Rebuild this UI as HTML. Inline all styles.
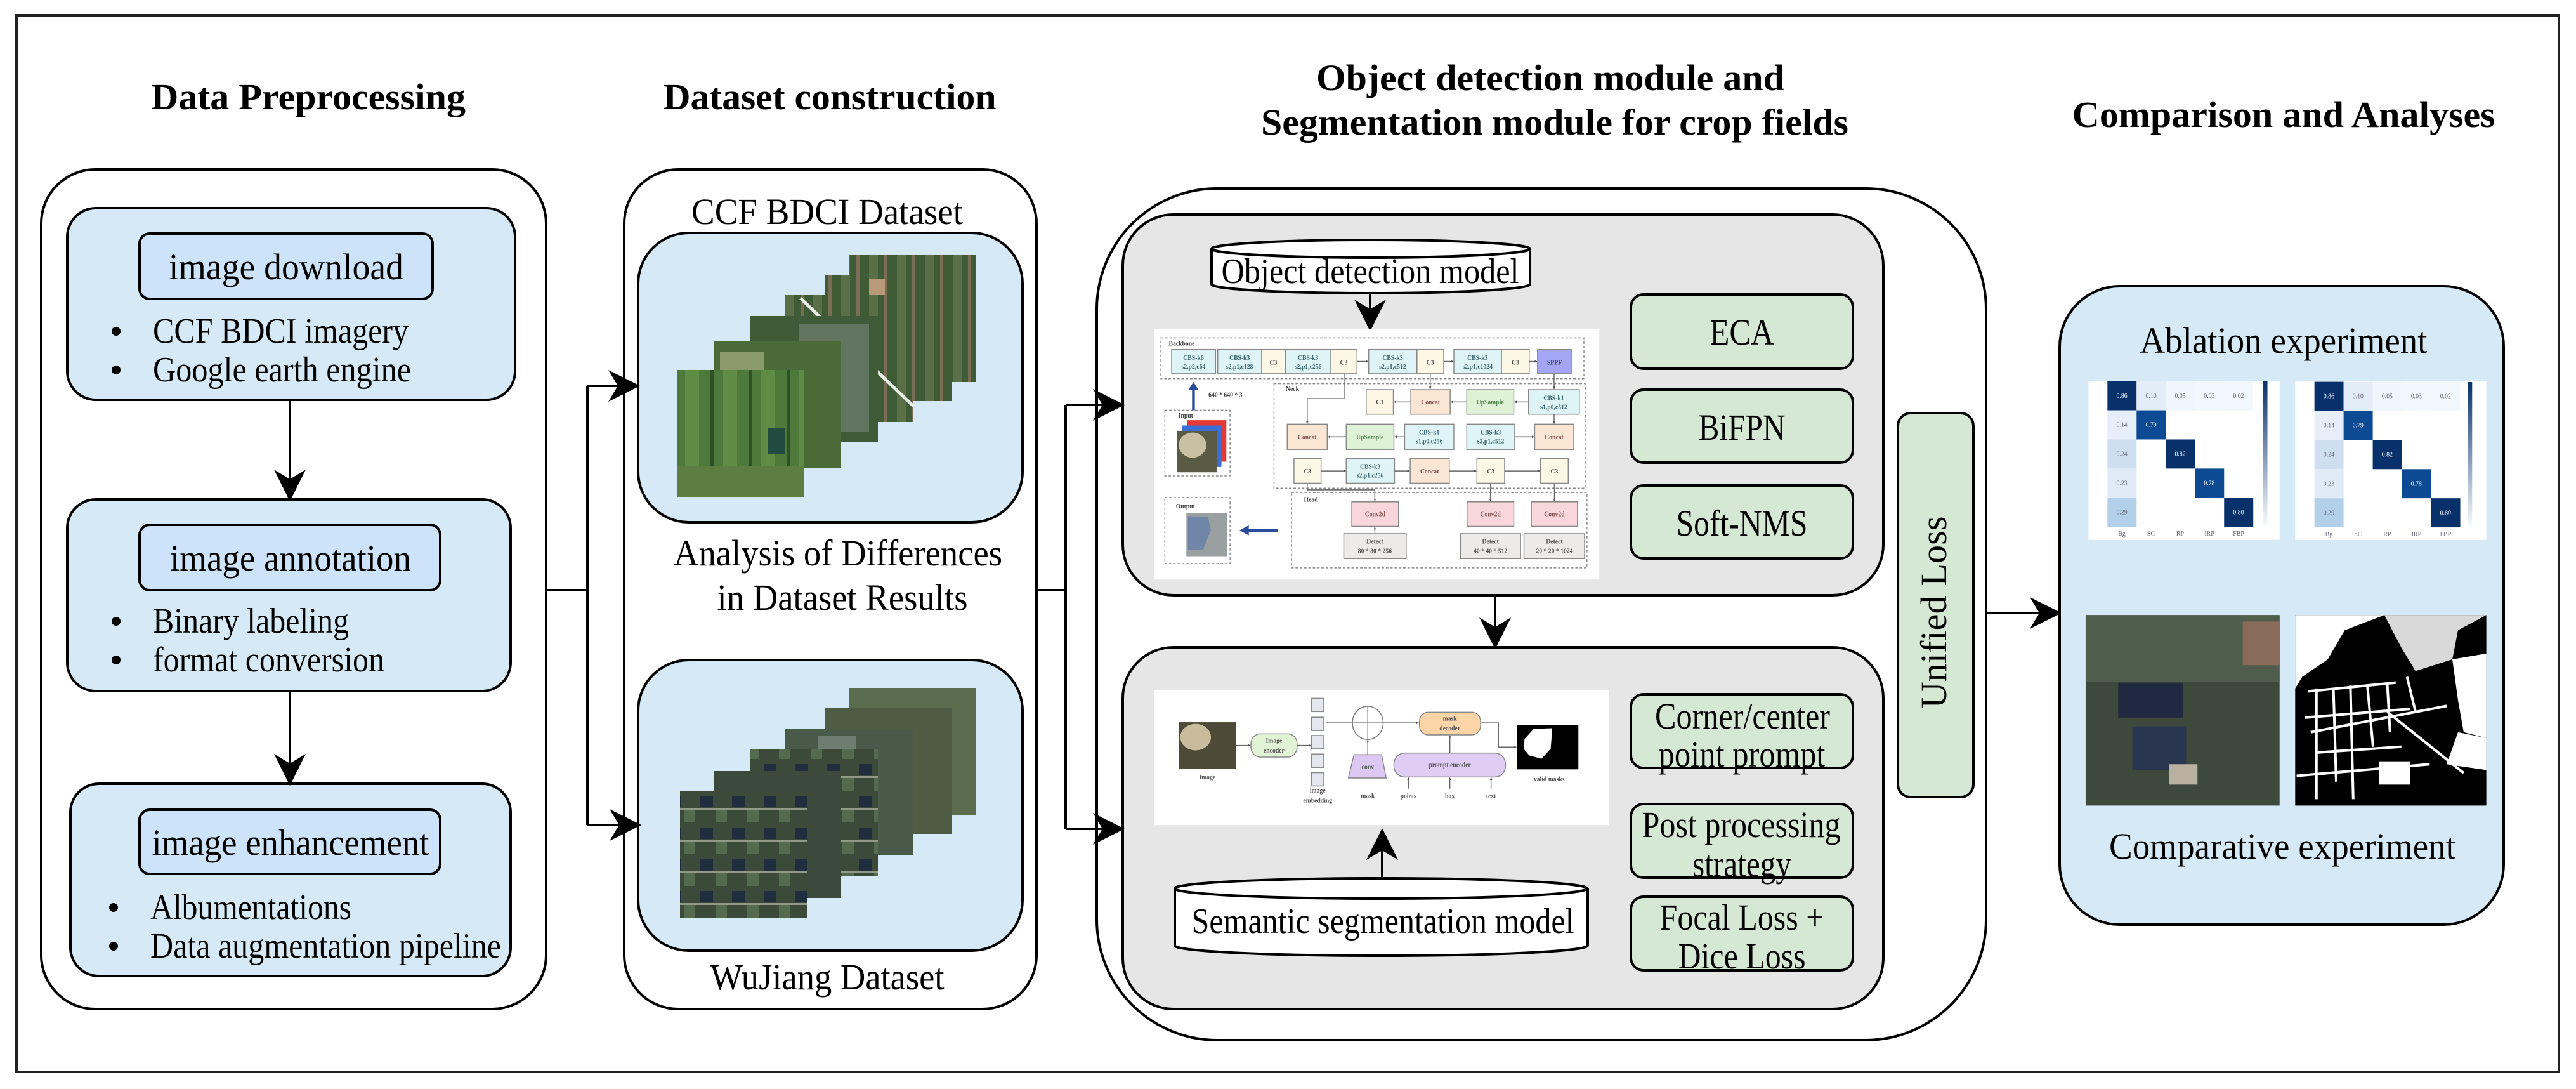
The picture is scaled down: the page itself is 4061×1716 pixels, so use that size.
<!DOCTYPE html>
<html><head><meta charset="utf-8"><style>
html,body{margin:0;padding:0;background:#fff;}
svg{display:block;font-family:"Liberation Serif","DejaVu Serif",serif;}
text{font-family:"Liberation Serif","DejaVu Serif",serif;}
</style></head><body>
<svg width="4061" height="1716" viewBox="0 0 4061 1716" xmlns="http://www.w3.org/2000/svg">
<defs>
<marker id="ah2" viewBox="0 0 20 20" refX="18" refY="10" markerWidth="50" markerHeight="50" markerUnits="userSpaceOnUse" orient="auto">
<path d="M0,0 L20,10 L0,20 L6,10 Z" fill="#000"/></marker>
<marker id="sa" viewBox="0 0 10 10" refX="9" refY="5" markerWidth="8" markerHeight="8" markerUnits="userSpaceOnUse" orient="auto">
<path d="M0,0 L10,5 L0,10 Z" fill="#555"/></marker>
<pattern id="f1" width="60" height="200" patternUnits="userSpaceOnUse">
<rect width="60" height="200" fill="#4d7a3a"/><rect x="0" width="22" height="200" fill="#5f8c45"/><rect x="40" width="6" height="200" fill="#2f4f26"/></pattern>
<pattern id="f2" width="44" height="200" patternUnits="userSpaceOnUse">
<rect width="44" height="200" fill="#3f5b36"/><rect x="6" width="14" height="200" fill="#5a6e48"/><rect x="30" width="5" height="200" fill="#7a6c55"/></pattern>
<pattern id="f3" width="50" height="50" patternUnits="userSpaceOnUse">
<rect width="50" height="50" fill="#3c4a3a"/><rect x="4" y="4" width="20" height="18" fill="#1f2d3f"/><rect x="28" y="26" width="18" height="20" fill="#556b4f"/><rect x="0" y="23" width="50" height="3" fill="#8f9b86"/></pattern>
</defs>

<rect x="26" y="24" width="4008" height="1665" fill="#fff" stroke="#222" stroke-width="4"/>

<g font-weight="bold" font-size="58" text-anchor="middle">
<text x="486" y="172" textLength="496" lengthAdjust="spacingAndGlyphs">Data Preprocessing</text>
<text x="1308" y="172" textLength="525" lengthAdjust="spacingAndGlyphs">Dataset construction</text>
<text x="2444" y="142" textLength="738" lengthAdjust="spacingAndGlyphs">Object detection module and</text>
<text x="2451" y="212" textLength="926" lengthAdjust="spacingAndGlyphs">Segmentation module for crop fields</text>
<text x="3600" y="200" textLength="667" lengthAdjust="spacingAndGlyphs">Comparison and Analyses</text>
</g>

<rect x="65" y="267" width="796" height="1323" rx="85" fill="#fff" stroke="#000" stroke-width="4"/>
<g stroke="#000" stroke-width="4">
<rect x="106" y="328" width="706" height="302" rx="45" fill="#d5eaf6"/>
<rect x="106" y="787" width="699" height="302" rx="45" fill="#d5eaf6"/>
<rect x="111" y="1235" width="694" height="303" rx="45" fill="#d5eaf6"/>
<rect x="220" y="368" width="462" height="103" rx="16" fill="#cde3fa"/>
<rect x="220" y="827" width="474" height="103" rx="16" fill="#cde3fa"/>
<rect x="220" y="1276" width="474" height="101" rx="16" fill="#cde3fa"/>
</g>
<g font-size="58">
<text x="451" y="440" text-anchor="middle" textLength="370" lengthAdjust="spacingAndGlyphs">image download</text>
<text x="458" y="899" text-anchor="middle" textLength="380" lengthAdjust="spacingAndGlyphs">image annotation</text>
<text x="458" y="1347" text-anchor="middle" textLength="437" lengthAdjust="spacingAndGlyphs">image enhancement</text>
<g font-size="56">
<text x="241" y="540" textLength="403" lengthAdjust="spacingAndGlyphs">CCF BDCI imagery</text>
<text x="241" y="601" textLength="407" lengthAdjust="spacingAndGlyphs">Google earth engine</text>
<text x="241" y="997" textLength="309" lengthAdjust="spacingAndGlyphs">Binary labeling</text>
<text x="241" y="1058" textLength="365" lengthAdjust="spacingAndGlyphs">format conversion</text>
<text x="237" y="1448" textLength="317" lengthAdjust="spacingAndGlyphs">Albumentations</text>
<text x="237" y="1509" textLength="553" lengthAdjust="spacingAndGlyphs">Data augmentation pipeline</text>
</g></g>
<g fill="#000">
<circle cx="183" cy="522" r="7"/><circle cx="183" cy="583" r="7"/>
<circle cx="183" cy="979" r="7"/><circle cx="183" cy="1040" r="7"/>
<circle cx="179" cy="1430" r="7"/><circle cx="179" cy="1491" r="7"/>
</g>
<g stroke="#000" stroke-width="4" fill="none">
<line x1="457" y1="630" x2="457" y2="785" marker-end="url(#ah2)"/>
<line x1="457" y1="1089" x2="457" y2="1233" marker-end="url(#ah2)"/>
</g>

<rect x="984" y="267" width="650" height="1323" rx="85" fill="#fff" stroke="#000" stroke-width="4"/>
<rect x="1006" y="367" width="606" height="456" rx="80" fill="#d5eaf6" stroke="#000" stroke-width="4"/>
<rect x="1006" y="1040" width="606" height="458" rx="80" fill="#d5eaf6" stroke="#000" stroke-width="4"/>
<g font-size="58" text-anchor="middle">
<text x="1304" y="353" textLength="428" lengthAdjust="spacingAndGlyphs">CCF BDCI Dataset</text>
<text x="1321" y="891" textLength="518" lengthAdjust="spacingAndGlyphs">Analysis of Differences</text>
<text x="1328" y="961" textLength="395" lengthAdjust="spacingAndGlyphs">in Dataset Results</text>
<text x="1304" y="1559" textLength="369" lengthAdjust="spacingAndGlyphs">WuJiang Dataset</text>
</g>
<g>
<rect x="1339" y="402" width="200" height="200" fill="url(#f2)"/>
<rect x="1300" y="433" width="201" height="199" fill="url(#f2)"/>
<rect x="1370" y="440" width="25" height="30" fill="#b89a78"/>
<rect x="1238" y="465" width="201" height="200" fill="url(#f2)"/>
<line x1="1262" y1="470" x2="1440" y2="640" stroke="#e8eee8" stroke-width="5"/>
<rect x="1183" y="498" width="201" height="199" fill="#3f5a36"/>
<rect x="1260" y="510" width="110" height="170" fill="#6a7a6a" opacity="0.8"/>
<rect x="1125" y="538" width="201" height="200" fill="#4a6a38"/>
<rect x="1135" y="555" width="70" height="30" fill="#8a9a6a"/>
<rect x="1068" y="583" width="200" height="200" fill="url(#f1)"/>
<rect x="1210" y="675" width="28" height="40" fill="#234a3f"/>
<rect x="1068" y="735" width="200" height="48" fill="#5d7e42"/>
</g>
<g>
<rect x="1339" y="1084" width="200" height="200" fill="#5a6b4e"/>
<rect x="1300" y="1115" width="201" height="199" fill="#4e5c44"/>
<rect x="1238" y="1148" width="201" height="200" fill="#4a5a48"/>
<rect x="1290" y="1160" width="60" height="180" fill="#6d7d70"/>
<rect x="1183" y="1180" width="201" height="200" fill="url(#f3)"/>
<rect x="1125" y="1215" width="201" height="200" fill="#3b4a3b"/>
<rect x="1072" y="1246" width="201" height="201" fill="url(#f3)"/>
</g>

<rect x="1729" y="297" width="1402" height="1342" rx="190" fill="#fff" stroke="#000" stroke-width="4"/>
<rect x="1770" y="338" width="1199" height="600" rx="80" fill="#e6e6e6" stroke="#000" stroke-width="4"/>
<rect x="1770" y="1020" width="1199" height="570" rx="80" fill="#e6e6e6" stroke="#000" stroke-width="4"/>

<!-- connectors (drawn after panels) -->
<g stroke="#000" stroke-width="4" fill="none">
<polyline points="861,930 926,930"/>
<polyline points="926,608 926,1300"/>
<line x1="926" y1="608" x2="1004" y2="608" marker-end="url(#ah2)"/>
<line x1="926" y1="1300" x2="1006" y2="1300" marker-end="url(#ah2)"/>
<polyline points="1634,930 1680,930"/>
<polyline points="1680,638 1680,1306"/>
<line x1="1680" y1="638" x2="1768" y2="638" marker-end="url(#ah2)"/>
<line x1="1680" y1="1306" x2="1768" y2="1306" marker-end="url(#ah2)"/>
</g>

<g stroke="#000" stroke-width="4" fill="#fff">
<path d="M1910,392 L1910,448 A251,14 0 0 0 2412,448 L2412,392"/>
<ellipse cx="2161" cy="392" rx="251" ry="14"/>
</g>
<text x="2160" y="446" font-size="56" text-anchor="middle" textLength="469" lengthAdjust="spacingAndGlyphs">Object detection model</text>
<line x1="2160" y1="462" x2="2160" y2="517" stroke="#000" stroke-width="4" marker-end="url(#ah2)"/>
<g stroke="#000" stroke-width="4" fill="#fff">
<path d="M1852,1400 L1852,1490 A325,16 0 0 0 2503,1490 L2503,1400"/>
<ellipse cx="2177" cy="1400" rx="325" ry="16"/>
</g>
<text x="2180" y="1470" font-size="56" text-anchor="middle" textLength="603" lengthAdjust="spacingAndGlyphs">Semantic segmentation model</text>
<line x1="2179" y1="1385" x2="2179" y2="1310" stroke="#000" stroke-width="4" marker-end="url(#ah2)"/>
<line x1="2357" y1="938" x2="2357" y2="1018" stroke="#000" stroke-width="4" marker-end="url(#ah2)"/>

<g transform="translate(1800,500) scale(0.4847,0.523)" font-size="20" font-weight="bold" text-anchor="middle" fill="#444">
<rect x="40" y="35" width="1448" height="755" fill="#fff"/>
<g fill="none" stroke="#888" stroke-width="3" stroke-dasharray="8,6">
<rect x="62" y="62" width="1376" height="123"/><rect x="430" y="200" width="1012" height="315"/>
<rect x="487" y="528" width="961" height="227"/><rect x="75" y="280" width="212" height="198"/><rect x="75" y="543" width="212" height="199"/>
</g>
<g stroke="#888" stroke-width="3">
<rect x="97" y="97" width="143" height="73" fill="#dff4f6"/><rect x="247" y="97" width="143" height="73" fill="#dff4f6"/>
<rect x="390" y="97" width="77" height="73" fill="#fdf8e6"/><rect x="467" y="97" width="148" height="73" fill="#dff4f6"/>
<rect x="615" y="97" width="85" height="73" fill="#fdf8e6"/><rect x="738" y="97" width="157" height="73" fill="#dff4f6"/>
<rect x="895" y="97" width="87" height="73" fill="#fdf8e6"/><rect x="1015" y="97" width="155" height="73" fill="#dff4f6"/>
<rect x="1170" y="97" width="90" height="73" fill="#fdf8e6"/><rect x="1287" y="97" width="110" height="73" fill="#a3a6f5"/>
<rect x="730" y="218" width="88" height="74" fill="#fdf8e6"/><rect x="875" y="218" width="128" height="74" fill="#fbe6d4"/>
<rect x="1057" y="218" width="153" height="74" fill="#def2d6"/><rect x="1258" y="218" width="165" height="74" fill="#dff4f6"/>
<rect x="473" y="322" width="130" height="76" fill="#fbe6d4"/><rect x="665" y="322" width="155" height="76" fill="#def2d6"/>
<rect x="855" y="322" width="160" height="76" fill="#dff4f6"/><rect x="1057" y="322" width="156" height="76" fill="#dff4f6"/>
<rect x="1278" y="322" width="127" height="76" fill="#fbe6d4"/>
<rect x="495" y="426" width="88" height="74" fill="#fdf8e6"/><rect x="665" y="426" width="157" height="74" fill="#dff4f6"/>
<rect x="873" y="426" width="127" height="74" fill="#fbe6d4"/><rect x="1090" y="426" width="90" height="74" fill="#fdf8e6"/>
<rect x="1297" y="426" width="90" height="74" fill="#fdf8e6"/>
<rect x="683" y="556" width="152" height="74" fill="#f9d6dc"/><rect x="1058" y="556" width="152" height="74" fill="#f9d6dc"/>
<rect x="1267" y="556" width="150" height="74" fill="#f9d6dc"/>
<rect x="657" y="652" width="203" height="75" fill="#ecebea"/><rect x="1037" y="652" width="195" height="75" fill="#ecebea"/>
<rect x="1243" y="652" width="197" height="75" fill="#ecebea"/>
</g>
<g fill="#3a6a70">
<text x="168" y="128">CBS-k6</text><text x="168" y="155">s2,p2,c64</text>
<text x="318" y="128">CBS-k3</text><text x="318" y="155">s2,p1,c128</text>
<text x="428" y="142" fill="#555">C3</text>
<text x="541" y="128">CBS-k3</text><text x="541" y="155">s2,p1,c256</text>
<text x="657" y="142" fill="#555">C3</text>
<text x="816" y="128">CBS-k3</text><text x="816" y="155">s2,p1,c512</text>
<text x="938" y="142" fill="#555">C3</text>
<text x="1092" y="128">CBS-k3</text><text x="1092" y="155">s2,p1,c1024</text>
<text x="1215" y="142" fill="#555">C3</text>
<text x="1342" y="142" fill="#333">SPPF</text>
<text x="774" y="262" fill="#555">C3</text><text x="939" y="262" fill="#855">Concat</text>
<text x="1133" y="262" fill="#585">UpSample</text>
<text x="1340" y="250">CBS-k1</text><text x="1340" y="276">s1,p0,c512</text>
<text x="538" y="367" fill="#855">Concat</text><text x="742" y="367" fill="#585">UpSample</text>
<text x="935" y="353">CBS-k1</text><text x="935" y="380">s1,p0,c256</text>
<text x="1135" y="353">CBS-k3</text><text x="1135" y="380">s2,p1,c512</text>
<text x="1341" y="367" fill="#855">Concat</text>
<text x="539" y="470" fill="#555">C3</text>
<text x="743" y="456">CBS-k3</text><text x="743" y="483">s2,p1,c256</text>
<text x="936" y="470" fill="#855">Concat</text><text x="1135" y="470" fill="#555">C3</text><text x="1342" y="470" fill="#555">C3</text>
<text x="759" y="599" fill="#855">Conv2d</text><text x="1134" y="599" fill="#855">Conv2d</text><text x="1342" y="599" fill="#855">Conv2d</text>
<text x="758" y="682" fill="#555">Detect</text><text x="758" y="710" fill="#555">80 * 80 * 256</text>
<text x="1134" y="682" fill="#555">Detect</text><text x="1134" y="710" fill="#555">40 * 40 * 512</text>
<text x="1342" y="682" fill="#555">Detect</text><text x="1342" y="710" fill="#555">20 * 20 * 1024</text>
<text x="130" y="85" fill="#444">Backbone</text><text x="490" y="222" fill="#444">Neck</text>
<text x="550" y="555" fill="#444">Head</text><text x="143" y="302" fill="#444">Input</text><text x="142" y="576" fill="#444">Output</text>
<text x="272" y="240" fill="#444">640 * 640 * 3</text>
</g>
<g stroke="#666" stroke-width="3" fill="none">
<line x1="700" y1="133" x2="736" y2="133" marker-end="url(#sa)"/><line x1="982" y1="133" x2="1013" y2="133" marker-end="url(#sa)"/>
<line x1="1260" y1="133" x2="1285" y2="133" marker-end="url(#sa)"/>
<polyline points="658,170 658,245 538,245 538,320" marker-end="url(#sa)"/>
<line x1="938" y1="170" x2="938" y2="216" marker-end="url(#sa)"/>
<line x1="1341" y1="170" x2="1341" y2="216" marker-end="url(#sa)"/>
<line x1="1257" y1="255" x2="1212" y2="255" marker-end="url(#sa)"/>
<line x1="1056" y1="255" x2="1005" y2="255" marker-end="url(#sa)"/>
<line x1="874" y1="255" x2="820" y2="255" marker-end="url(#sa)"/>
<line x1="854" y1="360" x2="822" y2="360" marker-end="url(#sa)"/>
<line x1="664" y1="360" x2="605" y2="360" marker-end="url(#sa)"/>
<line x1="1213" y1="360" x2="1276" y2="360" marker-end="url(#sa)"/>
<line x1="583" y1="463" x2="663" y2="463" marker-end="url(#sa)"/>
<line x1="822" y1="463" x2="871" y2="463" marker-end="url(#sa)"/>
<line x1="1000" y1="463" x2="1088" y2="463" marker-end="url(#sa)"/>
<line x1="1180" y1="463" x2="1295" y2="463" marker-end="url(#sa)"/>
<line x1="1341" y1="292" x2="1341" y2="320" marker-end="url(#sa)"/>
<polyline points="538,500 538,520 758,520 758,554" marker-end="url(#sa)"/>
<line x1="1134" y1="500" x2="1134" y2="554" marker-end="url(#sa)"/>
<line x1="1342" y1="500" x2="1342" y2="554" marker-end="url(#sa)"/>
<line x1="758" y1="650" x2="758" y2="632" marker-end="url(#sa)"/>
</g>
<rect x="148" y="310" width="127" height="125" fill="#e53935"/>
<rect x="132" y="326" width="127" height="125" fill="#3a6fd8"/>
<rect x="115" y="342" width="130" height="125" fill="#5b5a45"/>
<ellipse cx="165" cy="385" rx="45" ry="38" fill="#c9bfa2"/>
<rect x="145" y="590" width="133" height="130" fill="#9aa0a0"/>
<path d="M150,600 L215,600 L225,640 L200,700 L150,700 Z" fill="#6f86a8"/>
<line x1="168" y1="280" x2="168" y2="215" stroke="#2a4a9a" stroke-width="9"/>
<path d="M152,218 L168,195 L184,218 Z" fill="#2a4a9a"/>
<line x1="442" y1="642" x2="345" y2="642" stroke="#2a4a9a" stroke-width="9"/>
<path d="M348,627 L318,642 L348,657 Z" fill="#2a4a9a"/>

<rect x="40" y="1122" width="1478" height="408" fill="#fff"/>
<rect x="120" y="1220" width="187" height="140" fill="#4d4a38"/>
<ellipse cx="175" cy="1265" rx="50" ry="40" fill="#c8bc9c"/>
<text x="213" y="1392" fill="#555">Image</text>
<rect x="355" y="1255" width="150" height="70" rx="30" fill="#e2f4d6" stroke="#888" stroke-width="3"/>
<text x="430" y="1282" fill="#555">Image</text><text x="430" y="1312" fill="#555">encoder</text>
<g fill="#e4e8ee" stroke="#888" stroke-width="3">
<rect x="552" y="1148" width="40" height="40"/><rect x="552" y="1205" width="40" height="40"/><rect x="552" y="1260" width="40" height="40"/>
<rect x="552" y="1316" width="40" height="40"/><rect x="552" y="1372" width="40" height="40"/></g>
<text x="572" y="1432" fill="#555">image</text><text x="572" y="1462" fill="#555">embedding</text>
<circle cx="735" cy="1222" r="50" fill="none" stroke="#777" stroke-width="3"/>
<line x1="685" y1="1222" x2="785" y2="1222" stroke="#777" stroke-width="3"/><line x1="735" y1="1172" x2="735" y2="1272" stroke="#777" stroke-width="3"/>
<path d="M690,1318 L780,1318 L795,1388 L672,1388 Z" fill="#dcc8f2" stroke="#888" stroke-width="3"/>
<text x="735" y="1360" fill="#555">conv</text><text x="735" y="1448" fill="#555">mask</text>
<rect x="903" y="1190" width="199" height="68" rx="28" fill="#fbd4a8" stroke="#888" stroke-width="3"/>
<text x="1002" y="1215" fill="#555">mask</text><text x="1002" y="1245" fill="#555">decoder</text>
<rect x="820" y="1313" width="363" height="72" rx="34" fill="#e0cdf5" stroke="#888" stroke-width="3"/>
<text x="1002" y="1355" fill="#555">prompt encoder</text>
<text x="867" y="1448" fill="#555">points</text><text x="1002" y="1448" fill="#555">box</text><text x="1136" y="1448" fill="#555">text</text>
<g stroke="#666" stroke-width="3" fill="none">
<line x1="307" y1="1290" x2="353" y2="1290" marker-end="url(#sa)"/><line x1="505" y1="1290" x2="550" y2="1290" marker-end="url(#sa)"/>
<line x1="600" y1="1222" x2="685" y2="1222"/><line x1="785" y1="1222" x2="900" y2="1222" marker-end="url(#sa)"/>
<line x1="735" y1="1318" x2="735" y2="1274" marker-end="url(#sa)"/>
<line x1="1002" y1="1313" x2="1002" y2="1260" marker-end="url(#sa)"/>
<polyline points="1102,1222 1160,1222 1160,1295 1218,1295" marker-end="url(#sa)"/>
<line x1="867" y1="1420" x2="867" y2="1387" marker-end="url(#sa)"/><line x1="1002" y1="1420" x2="1002" y2="1387" marker-end="url(#sa)"/><line x1="1136" y1="1420" x2="1136" y2="1387" marker-end="url(#sa)"/>
</g>
<rect x="1220" y="1228" width="200" height="134" fill="#000"/>
<path d="M1245,1270 L1275,1240 L1335,1238 L1330,1300 L1300,1330 L1260,1320 L1242,1300 Z" fill="#fff"/>
<text x="1325" y="1398" fill="#555">valid masks</text>
</g>

<g stroke="#000" stroke-width="4" fill="#d5e8d4">
<rect x="2571" y="464" width="350" height="117" rx="20"/>
<rect x="2571" y="614" width="350" height="115" rx="20"/>
<rect x="2571" y="765" width="350" height="115" rx="20"/>
<rect x="2571" y="1094" width="350" height="116" rx="20"/>
<rect x="2571" y="1267" width="350" height="116" rx="20"/>
<rect x="2571" y="1413" width="350" height="116" rx="20"/>
<rect x="2992" y="651" width="119" height="605" rx="20"/>
</g>
<g font-size="58" text-anchor="middle">
<text x="2746" y="543" textLength="101" lengthAdjust="spacingAndGlyphs">ECA</text>
<text x="2746" y="693" textLength="137" lengthAdjust="spacingAndGlyphs">BiFPN</text>
<text x="2746" y="844" textLength="207" lengthAdjust="spacingAndGlyphs">Soft-NMS</text>
<text x="2747" y="1148" textLength="276" lengthAdjust="spacingAndGlyphs">Corner/center</text>
<text x="2746" y="1208" textLength="263" lengthAdjust="spacingAndGlyphs">point prompt</text>
<text x="2745" y="1319" textLength="313" lengthAdjust="spacingAndGlyphs">Post processing</text>
<text x="2746" y="1381" textLength="156" lengthAdjust="spacingAndGlyphs">strategy</text>
<text x="2746" y="1465" textLength="259" lengthAdjust="spacingAndGlyphs">Focal Loss +</text>
<text x="2746" y="1526" textLength="201" lengthAdjust="spacingAndGlyphs">Dice Loss</text>
<text x="0" y="0" transform="translate(3068,965) rotate(-90)" textLength="303" lengthAdjust="spacingAndGlyphs">Unified  Loss</text>
</g>

<line x1="3131" y1="966" x2="3245" y2="966" stroke="#000" stroke-width="4" marker-end="url(#ah2)"/>

<rect x="3247" y="451" width="700" height="1006" rx="95" fill="#d5eaf6" stroke="#000" stroke-width="4"/>
<g font-size="58" text-anchor="middle">
<text x="3600" y="556" textLength="453" lengthAdjust="spacingAndGlyphs">Ablation experiment</text>
<text x="3598" y="1353" textLength="546" lengthAdjust="spacingAndGlyphs">Comparative experiment</text>
</g>
<g transform="translate(3250,580) scale(0.4464,0.459)">
<rect x="95" y="45" width="675" height="545" fill="#fff"/>
<rect x="825" y="45" width="675" height="545" fill="#fff"/>
<g id="cm1">
<rect x="162" y="45" width="103" height="100" fill="#08306b"/>
<rect x="265" y="45" width="103" height="100" fill="#e3edf8"/><rect x="368" y="45" width="103" height="100" fill="#f0f6fd"/>
<rect x="471" y="45" width="103" height="100" fill="#f3f8fe"/><rect x="574" y="45" width="103" height="100" fill="#f2f7fe"/>
<rect x="162" y="145" width="103" height="100" fill="#e6eff9"/><rect x="265" y="145" width="103" height="100" fill="#0d4a94"/>
<rect x="162" y="245" width="103" height="100" fill="#cfdff1"/><rect x="368" y="245" width="103" height="100" fill="#08306b"/>
<rect x="162" y="345" width="103" height="100" fill="#e0ebf7"/><rect x="471" y="345" width="103" height="100" fill="#0d4a94"/>
<rect x="162" y="445" width="103" height="100" fill="#b3d0ea"/><rect x="574" y="445" width="103" height="100" fill="#08306b"/>
<g font-size="22" fill="#fff" text-anchor="middle"><text x="213" y="102">0.86</text><text x="316" y="202">0.79</text><text x="419" y="302">0.82</text><text x="522" y="402">0.78</text><text x="625" y="502">0.80</text></g>
<g font-size="22" fill="#667" text-anchor="middle"><text x="316" y="102">0.10</text><text x="419" y="102">0.05</text><text x="522" y="102">0.03</text><text x="625" y="102">0.02</text><text x="213" y="202">0.14</text><text x="213" y="302">0.24</text><text x="213" y="402">0.23</text><text x="213" y="502">0.29</text>
<text x="213" y="575">Bg</text><text x="316" y="575">SC</text><text x="419" y="575">RP</text><text x="522" y="575">IRP</text><text x="625" y="575">FBP</text></g>
</g>
<use href="#cm1" transform="translate(731,2)"/>
<defs><linearGradient id="cb" x1="0" y1="0" x2="0" y2="1"><stop offset="0" stop-color="#08306b"/><stop offset="1" stop-color="#f7fbff"/></linearGradient></defs>
<rect x="712" y="45" width="15" height="495" fill="url(#cb)"/>
<rect x="1435" y="48" width="15" height="495" fill="url(#cb)"/>
<rect x="85" y="848" width="685" height="654" fill="#3d4a3b"/>
<rect x="85" y="848" width="685" height="230" fill="#4f5e4c"/>
<rect x="640" y="870" width="130" height="150" fill="#8a6a58"/>
<rect x="200" y="1080" width="230" height="120" fill="#1f2a40"/>
<rect x="250" y="1230" width="190" height="150" fill="#2a3550"/>
<rect x="380" y="1360" width="100" height="70" fill="#b8b0a0"/>
<rect x="825" y="848" width="675" height="654" fill="#000"/>
<path d="M825,848 L1140,848 L1000,900 L940,1000 L850,1060 L825,1100 Z" fill="#fff"/>
<path d="M1140,848 L1500,848 L1400,900 L1380,1000 L1250,1040 L1200,960 Z" fill="#fff" opacity="0.85"/>
<path d="M1380,1000 L1500,980 L1500,1270 L1420,1250 L1400,1140 Z" fill="#fff"/>
<path d="M1400,1250 L1500,1270 L1500,1380 L1360,1360 Z" fill="#fff"/>
<g stroke="#fff" stroke-width="9" fill="none">
<path d="M870,1110 L1180,1080 M860,1200 L1230,1170 M880,1250 L1360,1160 M900,1100 L900,1480 M960,1100 L970,1420 M1020,1090 L1030,1480 M1080,1090 L1100,1300 M1150,1080 L1160,1250 M1220,1060 L1250,1180 M1150,1180 L1420,1390 M900,1320 L1200,1300 M830,1400 L1300,1360"/>
</g>
<rect x="1120" y="1350" width="110" height="80" fill="#fff"/>
</g>
</svg>
</body></html>
